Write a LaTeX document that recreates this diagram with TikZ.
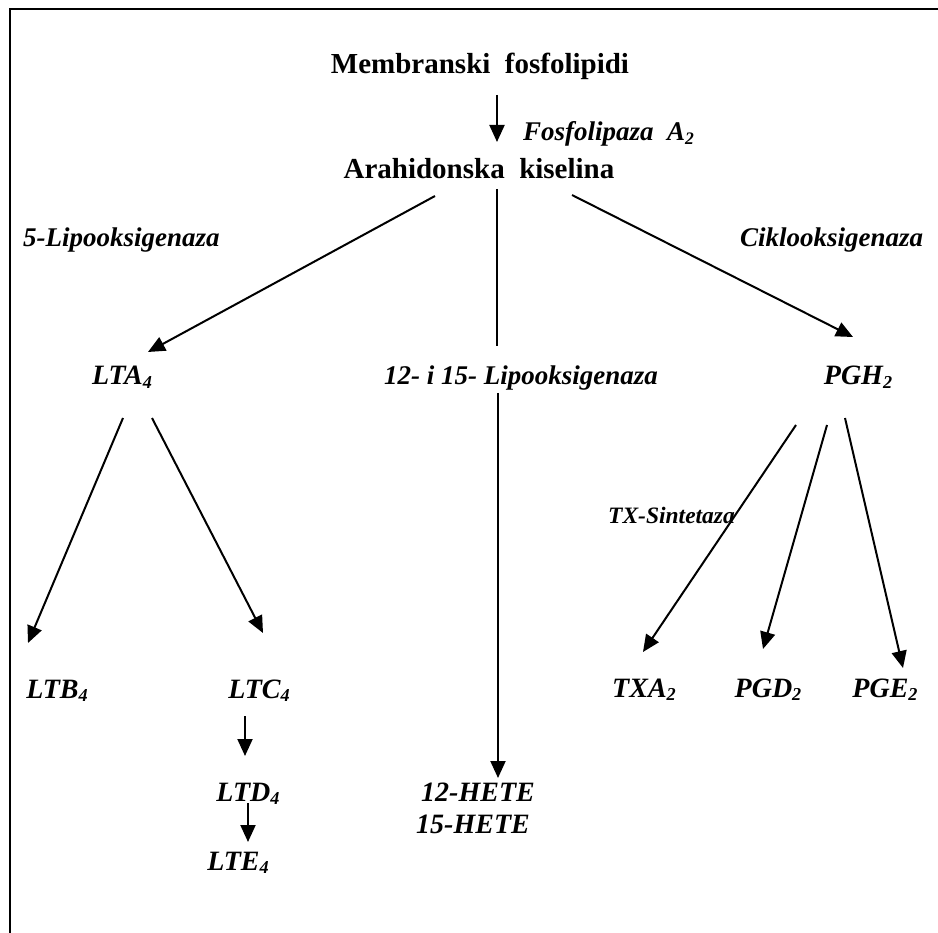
\documentclass[tikz,border=0pt]{standalone}
\usepackage{fontspec}
\setmainfont{Liberation Serif}
\usetikzlibrary{arrows.meta}
\newcommand{\lsub}[1]{\raisebox{-0.13em}{\scalebox{0.65}{#1}}}
\begin{document}
\begin{tikzpicture}[x=1pt,y=-1pt,
    head/.style={inner sep=0pt,anchor=base,font=\fontsize{29}{33}\selectfont\bfseries},
    prod/.style={inner sep=0pt,anchor=base,font=\fontsize{28}{32}\selectfont\bfseries\itshape},
    enz/.style={inner sep=0pt,font=\fontsize{27}{31}\selectfont\bfseries\itshape},
    arr/.style={line width=2pt,-{Triangle[length=17pt,width=15pt]}},
    plain/.style={line width=2pt}]
    \useasboundingbox (0,0) rectangle (938,933);
    \draw[line width=2.2pt] (10,9) rectangle (960,960);
    % top
    \node[head] (memb) at (480,74) {Membranski\ \ fosfolipidi};
    \node[head] (arah) at (479,179) {Arahidonska\ \ kiselina};
    \node[enz,anchor=base west] (fosf) at (523,141) {Fosfolipaza\ \ A\lsub{2}};
    \node[enz,anchor=base west] (lipo5) at (23,247) {5-Lipooksigenaza};
    \node[enz,anchor=base west] (ciklo) at (740,247) {Ciklooksigenaza};
    % middle row
    \node[prod] (lta) at (122,385) {LTA\lsub{4}};
    \node[enz,anchor=base east] (lipo) at (658,385) {12- i 15- Lipooksigenaza};
    \node[prod] (pgh) at (858,385) {PGH\lsub{2}};
    \node[enz,anchor=base west,font=\fontsize{23.5}{27}\selectfont\bfseries\itshape] (txs) at (608,523) {TX-Sintetaza};
    % bottom rows
    \node[prod] (ltb) at (57,698) {LTB\lsub{4}};
    \node[prod] (ltc) at (259,698) {LTC\lsub{4}};
    \node[prod] (ltd) at (248,801) {LTD\lsub{4}};
    \node[prod] (lte) at (238,870) {LTE\lsub{4}};
    \node[prod] (hete12) at (478,801) {12-HETE};
    \node[prod] (hete15) at (473,833) {15-HETE};
    \node[prod] (txa) at (644,697) {TXA\lsub{2}};
    \node[prod] (pgd) at (768,697) {PGD\lsub{2}};
    \node[prod] (pge) at (885,697) {PGE\lsub{2}};
    % arrow ends
    \coordinate (memb-out) at (497,95);
    \coordinate (arah-in) at (497,142);
    \coordinate (arah-l) at (435,196);
    \coordinate (arah-m) at (497,189);
    \coordinate (arah-r) at (572,195);
    \coordinate (lta-in) at (148,352);
    \coordinate (lipo-in) at (497,346);
    \coordinate (lipo-out) at (498,393);
    \coordinate (pgh-in) at (853,337);
    \coordinate (hete-in) at (498,778);
    \coordinate (lta-l) at (123,418);
    \coordinate (lta-r) at (152,418);
    \coordinate (ltb-in) at (28,643);
    \coordinate (ltc-in) at (263,633);
    \coordinate (ltc-out) at (245,716);
    \coordinate (ltd-in) at (245,756);
    \coordinate (ltd-out) at (248,803);
    \coordinate (lte-in) at (248,842);
    \coordinate (pgh-l) at (796,425);
    \coordinate (pgh-m) at (827,425);
    \coordinate (pgh-r) at (845,418);
    \coordinate (txa-in) at (643,652);
    \coordinate (pgd-in) at (763,649);
    \coordinate (pge-in) at (903,668);
    % connectors
    \draw[arr] (memb-out) -- (arah-in);
    \draw[arr] (arah-l) -- (lta-in);
    \draw[plain] (arah-m) -- (lipo-in);
    \draw[arr] (arah-r) -- (pgh-in);
    \draw[arr] (lipo-out) -- (hete-in);
    \draw[arr] (lta-l) -- (ltb-in);
    \draw[arr] (lta-r) -- (ltc-in);
    \draw[arr] (ltc-out) -- (ltd-in);
    \draw[arr] (ltd-out) -- (lte-in);
    \draw[arr] (pgh-l) -- (txa-in);
    \draw[arr] (pgh-m) -- (pgd-in);
    \draw[arr] (pgh-r) -- (pge-in);
\end{tikzpicture}
\end{document}
